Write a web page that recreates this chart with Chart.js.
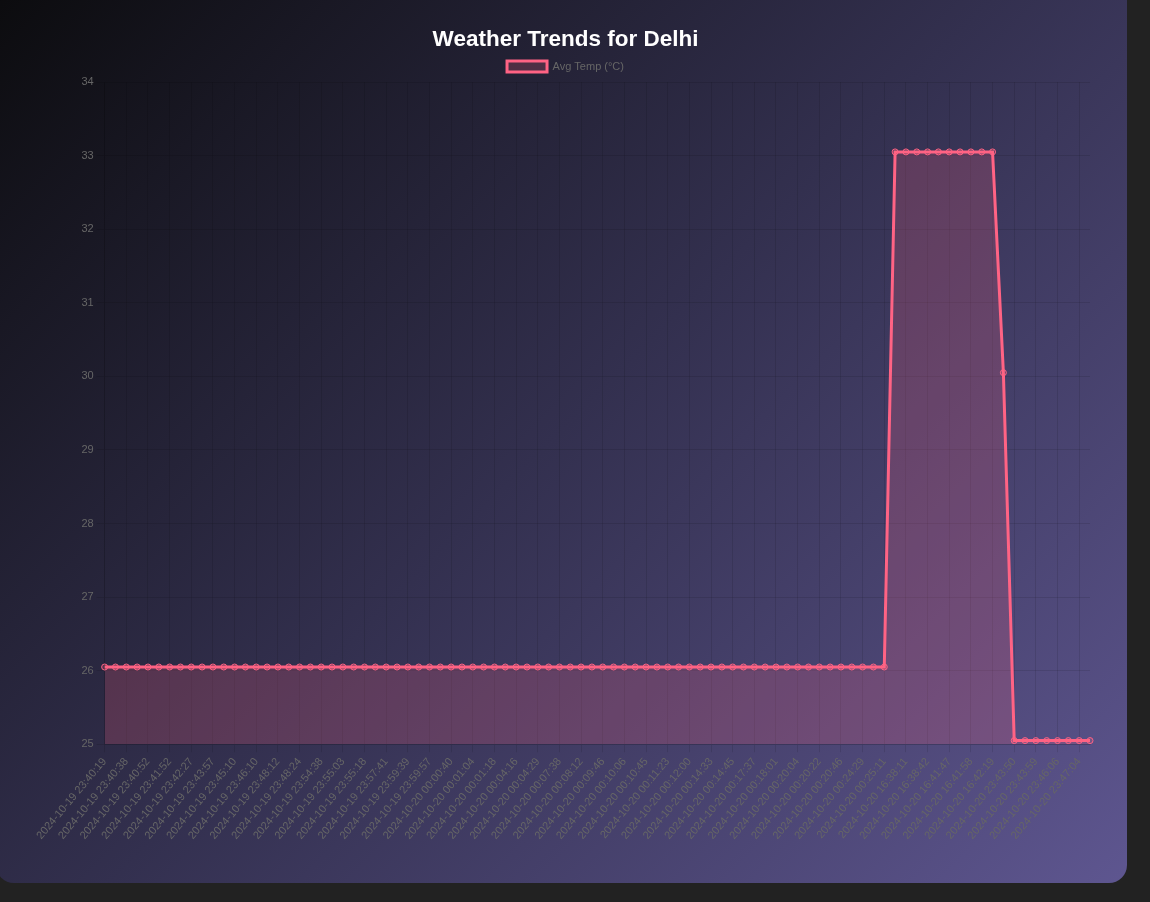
<!DOCTYPE html>
<html>
<head>
<meta charset="utf-8">
<title>Weather Trends for Delhi</title>
<script src="https://cdn.jsdelivr.net/npm/chart.js@4.4.1/dist/chart.umd.min.js"></script>
<style>
    body { margin: 0; background: #222222; overflow: hidden; }
    .card {
        position: absolute;
        left: -4px; top: -20px;
        width: 1131px; height: 903px;
        border-radius: 18px;
        background: linear-gradient(135deg, #0b0b0d 0%, #33304f 50%, #5e5690 100%);
    }
    .chart-box {
        position: absolute;
        left: 40px; top: 38px;
        width: 1059px; height: 827px;
    }
</style>
</head>
<body>
<div class="card">
    <div class="chart-box"><canvas id="chart-clima"></canvas></div>
</div>
<script>
// Horários das leituras (rótulos do eixo X)
const horarios = [
    '2024-10-19 23:40:19', '2024-10-19 23:40:28', '2024-10-19 23:40:38', '2024-10-19 23:40:45',
    '2024-10-19 23:40:52', '2024-10-19 23:41:20', '2024-10-19 23:41:52', '2024-10-19 23:42:10',
    '2024-10-19 23:42:27', '2024-10-19 23:43:12', '2024-10-19 23:43:57', '2024-10-19 23:44:33',
    '2024-10-19 23:45:10', '2024-10-19 23:45:40', '2024-10-19 23:46:10', '2024-10-19 23:47:11',
    '2024-10-19 23:48:12', '2024-10-19 23:48:18', '2024-10-19 23:48:24', '2024-10-19 23:51:31',
    '2024-10-19 23:54:38', '2024-10-19 23:54:50', '2024-10-19 23:55:03', '2024-10-19 23:55:10',
    '2024-10-19 23:55:18', '2024-10-19 23:56:29', '2024-10-19 23:57:41', '2024-10-19 23:58:40',
    '2024-10-19 23:59:39', '2024-10-19 23:59:48', '2024-10-19 23:59:57', '2024-10-20 00:00:18',
    '2024-10-20 00:00:40', '2024-10-20 00:00:52', '2024-10-20 00:01:04', '2024-10-20 00:01:11',
    '2024-10-20 00:01:18', '2024-10-20 00:02:47', '2024-10-20 00:04:16', '2024-10-20 00:04:22',
    '2024-10-20 00:04:29', '2024-10-20 00:06:03', '2024-10-20 00:07:38', '2024-10-20 00:07:55',
    '2024-10-20 00:08:12', '2024-10-20 00:08:59', '2024-10-20 00:09:46', '2024-10-20 00:09:56',
    '2024-10-20 00:10:06', '2024-10-20 00:10:25', '2024-10-20 00:10:45', '2024-10-20 00:11:04',
    '2024-10-20 00:11:23', '2024-10-20 00:11:41', '2024-10-20 00:12:00', '2024-10-20 00:13:16',
    '2024-10-20 00:14:33', '2024-10-20 00:14:39', '2024-10-20 00:14:45', '2024-10-20 00:16:11',
    '2024-10-20 00:17:37', '2024-10-20 00:17:49', '2024-10-20 00:18:01', '2024-10-20 00:19:02',
    '2024-10-20 00:20:04', '2024-10-20 00:20:13', '2024-10-20 00:20:22', '2024-10-20 00:20:34',
    '2024-10-20 00:20:46', '2024-10-20 00:22:37', '2024-10-20 00:24:29', '2024-10-20 00:24:50',
    '2024-10-20 00:25:11', '2024-10-20 16:37:55', '2024-10-20 16:38:11', '2024-10-20 16:38:26',
    '2024-10-20 16:38:42', '2024-10-20 16:40:14', '2024-10-20 16:41:47', '2024-10-20 16:41:52',
    '2024-10-20 16:41:58', '2024-10-20 16:42:08', '2024-10-20 16:42:19', '2024-10-20 23:43:41',
    '2024-10-20 23:43:50', '2024-10-20 23:43:54', '2024-10-20 23:43:59', '2024-10-20 23:45:02',
    '2024-10-20 23:46:06', '2024-10-20 23:46:35', '2024-10-20 23:47:04', '2024-10-20 23:47:30'
];

// Temperatura média (°C) de cada leitura
const tempMedia = [
    26.05, 26.05, 26.05, 26.05, 26.05, 26.05, 26.05, 26.05, 26.05, 26.05,
    26.05, 26.05, 26.05, 26.05, 26.05, 26.05, 26.05, 26.05, 26.05, 26.05,
    26.05, 26.05, 26.05, 26.05, 26.05, 26.05, 26.05, 26.05, 26.05, 26.05,
    26.05, 26.05, 26.05, 26.05, 26.05, 26.05, 26.05, 26.05, 26.05, 26.05,
    26.05, 26.05, 26.05, 26.05, 26.05, 26.05, 26.05, 26.05, 26.05, 26.05,
    26.05, 26.05, 26.05, 26.05, 26.05, 26.05, 26.05, 26.05, 26.05, 26.05,
    26.05, 26.05, 26.05, 26.05, 26.05, 26.05, 26.05, 26.05, 26.05, 26.05,
    26.05, 26.05, 26.05,
    33.05, 33.05, 33.05, 33.05, 33.05, 33.05, 33.05, 33.05, 33.05, 33.05,
    30.05,
    25.05, 25.05, 25.05, 25.05, 25.05, 25.05, 25.05, 25.05
];

const ctx = document.getElementById('chart-clima').getContext('2d');

new Chart(ctx, {
    type: 'line',
    data: {
        labels: horarios,
        datasets: [{
            label: 'Avg Temp (°C)',
            data: tempMedia,
            borderColor: 'rgb(255, 99, 132)',
            backgroundColor: 'rgba(255, 99, 132, 0.2)',
            borderWidth: 3,
            pointRadius: 3,
            pointBorderWidth: 1,
            fill: true,
            tension: 0
        }]
    },
    options: {
        responsive: true,
        maintainAspectRatio: false,
        animation: false,
        plugins: {
            title: {
                display: true,
                text: 'Weather Trends for Delhi',
                color: '#ffffff',
                font: { size: 22.5, weight: 'bold' },
                padding: { top: 8, bottom: 0 }
            },
            legend: {
                display: true,
                position: 'top',
                labels: { color: '#666', font: { size: 11 }, padding: 8 }
            }
        },
        scales: {
            x: {
                ticks: { color: '#666', font: { size: 11 }, maxRotation: 50 },
                grid: { color: 'rgba(0, 0, 0, 0.1)' }
            },
            y: {
                min: 25,
                max: 34,
                ticks: { color: '#666', font: { size: 11 }, stepSize: 1 },
                grid: { color: 'rgba(0, 0, 0, 0.1)' }
            }
        }
    }
});
</script>
</body>
</html>
